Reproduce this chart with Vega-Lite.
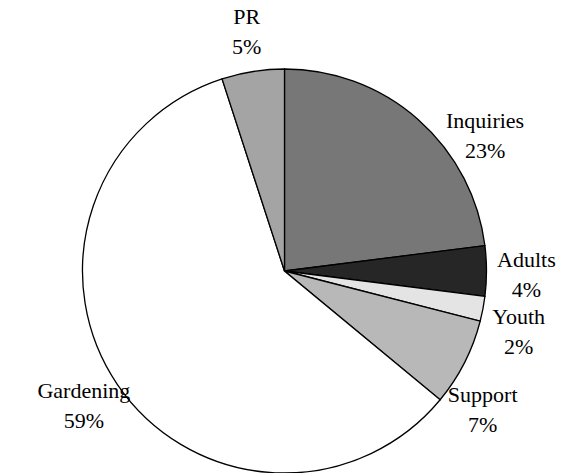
{
  "$schema": "https://vega.github.io/schema/vega-lite/v6.json",
  "width": 569,
  "height": 404,
  "autosize": {"type": "none"},
  "padding": {"left": 0, "top": 69, "right": 0, "bottom": 0},
  "background": "white",
  "config": {"text": {"font": "Liberation Serif"}, "font": "Liberation Serif"},
  "data": {
    "values": [
      {"category": "Inquiries", "share": 0.23, "seq": 1},
      {"category": "Adults", "share": 0.04, "seq": 2},
      {"category": "Youth", "share": 0.02, "seq": 3},
      {"category": "Support", "share": 0.07, "seq": 4},
      {"category": "Gardening", "share": 0.59, "seq": 5},
      {"category": "PR", "share": 0.05, "seq": 6}
    ]
  },
  "resolve": {"scale": {"theta": "independent"}},
  "layer": [
    {
      "mark": {"type": "arc", "stroke": "black", "strokeWidth": 1.3},
      "encoding": {
        "theta": {"field": "share", "type": "quantitative", "stack": true},
        "order": {"field": "seq", "type": "quantitative"},
        "color": {
          "field": "category",
          "type": "nominal",
          "scale": {
            "domain": ["Inquiries", "Adults", "Youth", "Support", "Gardening", "PR"],
            "range": ["#777777", "#262626", "#e4e4e4", "#b8b8b8", "#ffffff", "#a4a4a4"]
          },
          "legend": null
        }
      }
    },
    {
      "resolve": {"scale": {"theta": "shared"}},
      "encoding": {
        "theta": {
          "field": "share",
          "type": "quantitative",
          "stack": true,
          "scale": {"domain": [0, 0.115, 0.25, 0.325, 0.655, 1], "range": [0, 0.977, 1.588, 2.182, 4.119, 6.2832]}
        },
        "order": {"field": "seq", "type": "quantitative"}
      },
      "layer": [
        {
          "mark": {"type": "text", "radius": 242, "dy": -15, "font": "Liberation Serif", "fontSize": 22, "fill": "black"},
          "encoding": {"text": {"field": "category", "type": "nominal"}}
        },
        {
          "mark": {"type": "text", "radius": 242, "dy": 15, "font": "Liberation Serif", "fontSize": 22, "fill": "black"},
          "encoding": {"text": {"field": "share", "type": "quantitative", "format": ".0%"}}
        }
      ]
    }
  ]
}
